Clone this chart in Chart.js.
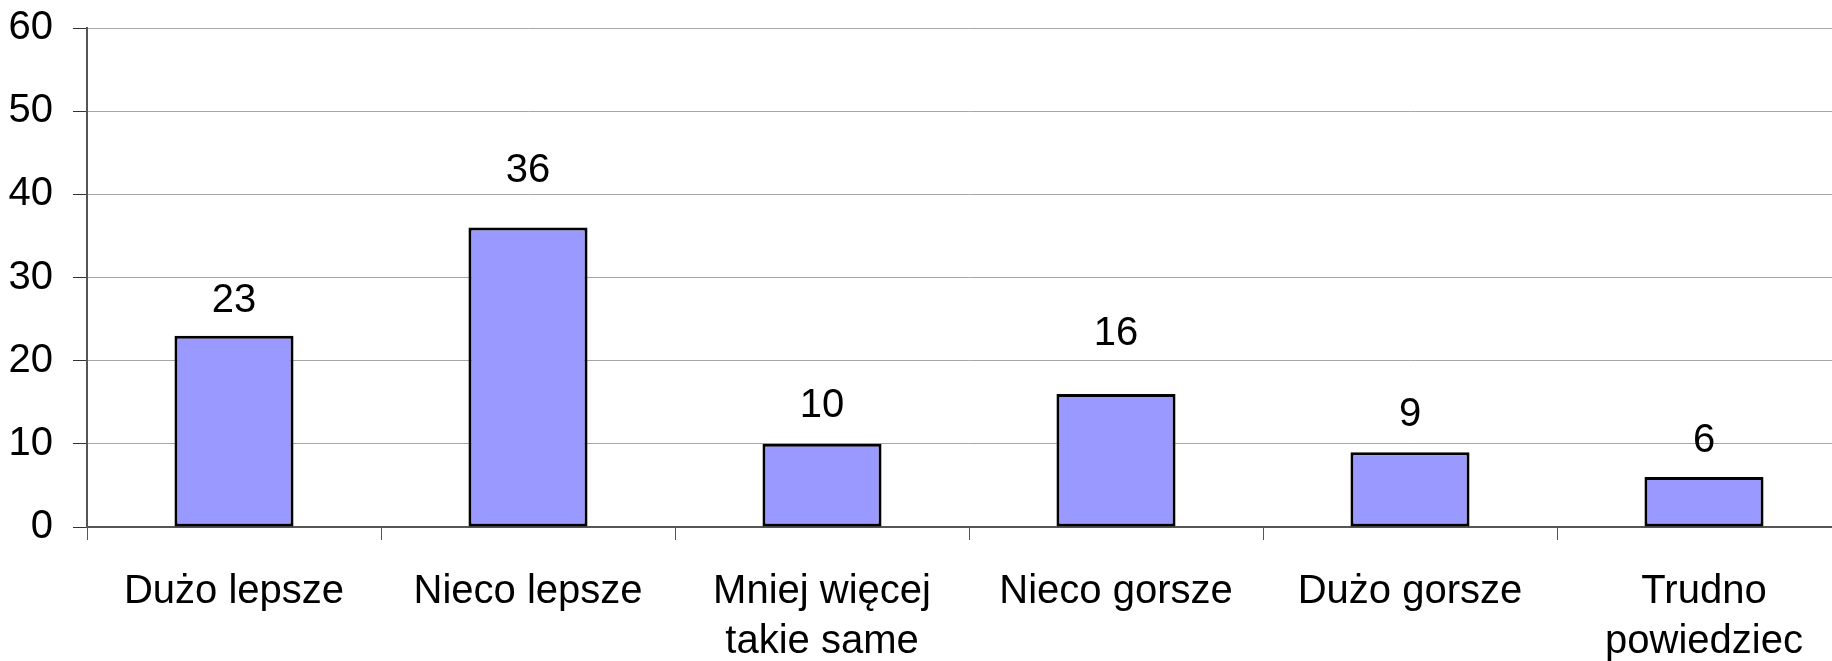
<!DOCTYPE html>
<html>
<head>
<meta charset="utf-8">
<script src="https://cdn.jsdelivr.net/npm/chart.js@4/dist/chart.umd.min.js"></script>
<style>
  html, body { margin: 0; padding: 0; background: #fff; overflow: hidden; }
  #wrap { width: 1851px; height: 661px; position: relative; }
</style>
</head>
<body>
<div id="wrap"><canvas id="canvas1"></canvas></div>
<script>
// data
var categories = [
  "Dużo lepsze",
  "Nieco lepsze",
  ["Mniej więcej", "takie same"],
  "Nieco gorsze",
  "Dużo gorsze",
  ["Trudno", "powiedziec"]
];
var values = [23, 36, 10, 16, 9, 6];
var yTicks = [0, 10, 20, 30, 40, 50, 60];

var FONT = "'Liberation Sans', Arial, sans-serif";

// gap (px) between bar top and its value label, labels were moved by hand in the original
var labelGap = [24, 46, 27, 49, 26, 25];

var valueLabels = {
  id: "valueLabels",
  afterDatasetsDraw: function (chart) {
    var ctx = chart.ctx;
    var meta = chart.getDatasetMeta(0);
    ctx.save();
    ctx.font = "40px " + FONT;
    ctx.fillStyle = "#000";
    ctx.textAlign = "center";
    ctx.textBaseline = "alphabetic";
    meta.data.forEach(function (bar, i) {
      ctx.fillText(String(values[i]), bar.x, bar.y - labelGap[i]);
    });
    ctx.restore();
  }
};

var data = {
  labels: categories,
  datasets: [
    {
      data: values,
      backgroundColor: "#9999ff",
      borderColor: "#000",
      borderWidth: 3,
      borderSkipped: false,
      barPercentage: 0.405,
      categoryPercentage: 1
    }
  ]
};

var options = {
  responsive: true,
  maintainAspectRatio: false,
  animation: false,
  layout: { padding: { top: 28, left: 0, right: 0, bottom: 0 } },
  plugins: {
    legend: { display: false },
    tooltip: { enabled: false }
  },
  scales: {
    x: {
      offset: true,
      grid: {
        offset: true,
        drawOnChartArea: false,
        tickLength: 13,
        color: "#555"
      },
      border: { color: "#555", width: 2 },
      ticks: {
        color: "#000",
        font: { family: FONT, size: 40, lineHeight: 1.25 },
        padding: 27,
        maxRotation: 0,
        autoSkip: false
      },
      afterFit: function (scale) {
        scale.height = 134;
        scale.paddingLeft = 0;
        scale.paddingRight = 0;
      }
    },
    y: {
      min: 0,
      max: 60,
      afterBuildTicks: function (scale) {
        scale.ticks = yTicks.map(function (v) { return { value: v }; });
      },
      grid: {
        color: "#a6a6a6",
        tickColor: "#333",
        tickLength: 14
      },
      border: { color: "#555", width: 2 },
      ticks: {
        color: "#000",
        font: { family: FONT, size: 40 },
        padding: 20
      },
      afterFit: function (scale) {
        scale.width = 87;
        scale.paddingTop = 0;
        scale.paddingBottom = 0;
      }
    }
  }
};

var chart = new Chart(document.getElementById("canvas1"), {
  type: "bar",
  data: data,
  options: options,
  plugins: [valueLabels]
});
</script>
</body>
</html>
